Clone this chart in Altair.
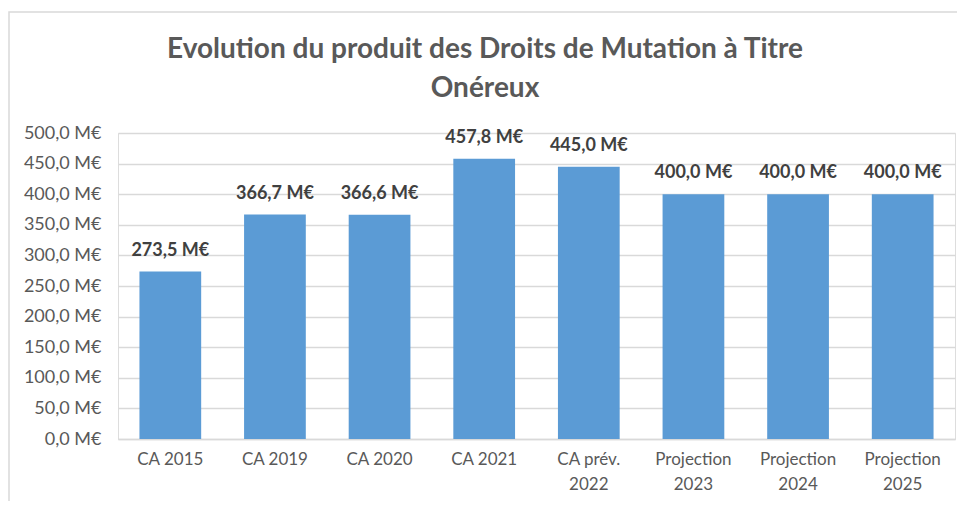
import altair as alt
import pandas as pd

categories = ["CA 2015", "CA 2019", "CA 2020", "CA 2021", "CA prév.\n2022",
              "Projection\n2023", "Projection\n2024", "Projection\n2025"]
values = [273.5, 366.7, 366.6, 457.8, 445.0, 400.0, 400.0, 400.0]
y_ticks = [0, 50, 100, 150, 200, 250, 300, 350, 400, 450, 500]
title_lines = ["Evolution du produit des Droits de Mutation à Titre", "Onéreux"]

df = pd.DataFrame({"cat": categories, "val": values})

W, H = 837, 306

x_enc = alt.X("cat:N", sort=categories, title=None,
              scale=alt.Scale(paddingInner=0.41, paddingOuter=0.205),
              axis=alt.Axis(labelExpr="split(datum.label, '\\n')", labelAngle=0,
                            labelFontSize=17, labelColor="#595959", labelPadding=12,
                            labelLineHeight=25, ticks=False, domainColor="#d9d9d9",
                            domainWidth=1.5, labelFont="Lato"))
y_enc = alt.Y("val:Q", title=None,
              scale=alt.Scale(domain=[0, 500], nice=False),
              axis=alt.Axis(values=y_ticks, tickCount=11,
                            labelExpr="replace(format(datum.value, '.1f'), '.', ',') + ' M€'",
                            labelFontSize=18, labelColor="#595959", labelPadding=17,
                            labelOverlap=False,
                            ticks=False, domain=False, gridColor="#d9d9d9", gridWidth=1.5,
                            labelFont="Lato"))

frame = alt.Chart(pd.DataFrame({"a": [0]})).mark_rect(
    fill=None, stroke="#d9d9d9", strokeWidth=1.5
).encode(x=alt.value(-109), x2=alt.value(W + 40), y=alt.value(-121), y2=alt.value(H + 120))

title = alt.Chart(pd.DataFrame({"a": [0]})).mark_text(
    baseline="alphabetic", align="center", fontSize=28, fontWeight="bold",
    color="#595959", font="Lato", lineHeight=39
).encode(x=alt.value(367), y=alt.value(-75), text=alt.value(title_lines))

bars = alt.Chart(df).mark_bar(color="#5b9bd5").encode(x=x_enc, y=y_enc)

labels = alt.Chart(df).transform_calculate(
    lbl="replace(format(datum.val, '.1f'), '.', ',') + ' M€'"
).mark_text(baseline="alphabetic", dy=-16, fontSize=18, fontWeight="bold",
            color="#404040", font="Lato").encode(
    x=x_enc, y=y_enc, text="lbl:N")

chart = alt.layer(frame, bars, labels, title).properties(
    width=W, height=H,
    autosize=alt.AutoSizeParams(type="none"),
    padding={"left": 110, "top": 125, "right": 2, "bottom": 62},
).configure_view(stroke=None).configure(font="Lato")

chart.save("out.html", embed_options={"renderer": "svg", "actions": False})
